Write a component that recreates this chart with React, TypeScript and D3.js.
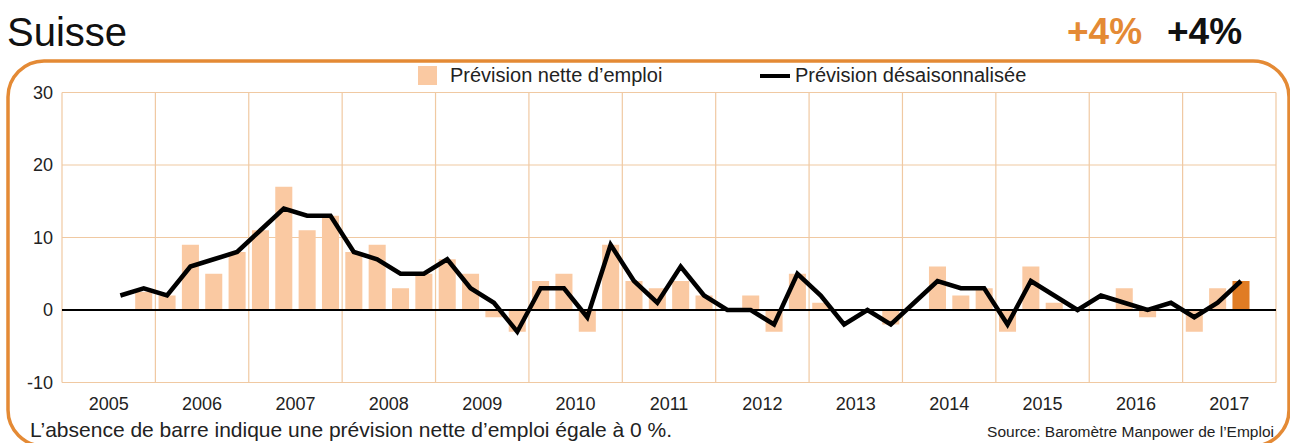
import * as d3 from "d3";

const years = ["2005", "2006", "2007", "2008", "2009", "2010", "2011", "2012", "2013", "2014", "2015", "2016", "2017"];
const quarters = ["T1", "T2", "T3", "T4"];

// net employment outlook per quarter, Q1 2005 .. Q4 2017 (null = no data)
const netOutlook = [
  null, null, 0, 2.5,
  2, 9, 5, 8,
  11, 17, 11, 13,
  8, 9, 3, 5,
  7, 5, -1, -3,
  4, 5, -3, 9,
  4, 3, 4, 2,
  0, 2, -3, 5,
  1, 0, 0, -2,
  0, 6, 2, 3,
  -3, 6, 1, 0,
  0, 3, -1, 0,
  -3, 3, 4, null,
];

// seasonally adjusted outlook
const adjusted = [
  null, null, 2, 3,
  2, 6, 7, 8,
  11, 14, 13, 13,
  8, 7, 5, 5,
  7, 3, 1, -3,
  3, 3, -1, 9,
  4, 1, 6, 2,
  0, 0, -2, 5,
  2, -2, 0, -2,
  1, 4, 3, 3,
  -2, 4, 2, 0,
  2, 1, 0, 1,
  -1, 1, 4, null,
];

const yTicks = [-10, 0, 10, 20, 30];
const latestIndex = 50;

const W = 1290;
const H = 443;
const left = 62;
const right = 1276;
const top = 92.5;
const bottom = 382.5;

const orange = "#e48a35";
const barColor = "#fac9a2";
const gridColor = "#f0c9a2";
const textColor = "#222";
const font = "'Liberation Sans', Arial, Helvetica, sans-serif";

export default function App() {
  const keys = years.flatMap((y) => quarters.map((q) => `${y}-${q}`));

  const x = d3.scaleBand().domain(keys).range([left, right]).paddingInner(0.27).paddingOuter(0.135);
  const xYear = d3.scaleBand().domain(years).range([left, right]);
  const y = d3.scaleLinear().domain([-10, 30]).range([bottom, top]);

  const rows = keys.map((k, i) => ({ key: k, net: netOutlook[i], adj: adjusted[i], i }));

  const line = d3
    .line<{ key: string; adj: number | null }>()
    .defined((d) => d.adj !== null)
    .x((d) => (x(d.key) as number) + x.bandwidth() / 2)
    .y((d) => y(d.adj as number));

  return (
    <svg width={W} height={H} style={{ position: "absolute", left: 0, top: 0, background: "#fff" }} fontFamily={font}>
      {/* header */}
      <text x={7} y={46} fontSize={40} fill="#111">Suisse</text>
      <text x={1067} y={44} fontSize={37} fontWeight="bold" fill={orange}>+4%</text>
      <text x={1167} y={44} fontSize={37} fontWeight="bold" fill="#111">+4%</text>

      {/* rounded frame */}
      <rect x={8} y={61} width={1281} height={385} rx={36} fill="none" stroke={orange} strokeWidth={3.5} />

      {/* legend */}
      <rect x={418} y={66} width={19} height={19} fill={barColor} />
      <text x={450} y={82} fontSize={20} fill={textColor}>Prévision nette d’emploi</text>
      <line x1={760} x2={790} y1={76} y2={76} stroke="#000" strokeWidth={4} />
      <text x={795} y={82} fontSize={20} fill={textColor}>Prévision désaisonnalisée</text>

      {/* grid */}
      <g stroke={gridColor} strokeWidth={1.2}>
        {yTicks.filter((t) => t !== 0).map((t) => (
          <line key={t} x1={left} x2={right} y1={y(t)} y2={y(t)} />
        ))}
        {years.map((yr) => (
          <line key={yr} x1={xYear(yr)} x2={xYear(yr)} y1={top} y2={bottom} />
        ))}
        <line x1={right} x2={right} y1={top} y2={bottom} />
      </g>

      {/* bars */}
      <g>
        {rows
          .filter((d) => d.net !== null && d.net !== 0)
          .map((d) => (
            <rect
              key={d.key}
              x={x(d.key)}
              width={x.bandwidth()}
              y={y(Math.max(0, d.net as number))}
              height={Math.abs(y(d.net as number) - y(0))}
              fill={d.i === latestIndex ? "#e07c24" : barColor}
            />
          ))}
      </g>

      {/* zero line */}
      <line x1={left} x2={right} y1={y(0)} y2={y(0)} stroke="#000" strokeWidth={2} />

      {/* adjusted line */}
      <path d={line(rows) || ""} fill="none" stroke="#000" strokeWidth={4.5} strokeLinejoin="miter" />

      {/* y axis labels */}
      <g fontSize={18} fill={textColor} textAnchor="end">
        {yTicks.map((t) => (
          <text key={t} x={53} y={y(t) + 6}>{t}</text>
        ))}
      </g>

      {/* x axis labels */}
      <g fontSize={18} fill={textColor} textAnchor="middle">
        {years.map((yr) => (
          <text key={yr} x={(xYear(yr) as number) + xYear.bandwidth() / 2} y={410}>{yr}</text>
        ))}
      </g>

      <text x={30} y={437} fontSize={21} fill={textColor}>L’absence de barre indique une prévision nette d’emploi égale à 0 %.</text>
      <text x={1274} y={437} fontSize={15.5} fill={textColor} textAnchor="end">Source: Baromètre Manpower de l’Emploi</text>
    </svg>
  );
}
